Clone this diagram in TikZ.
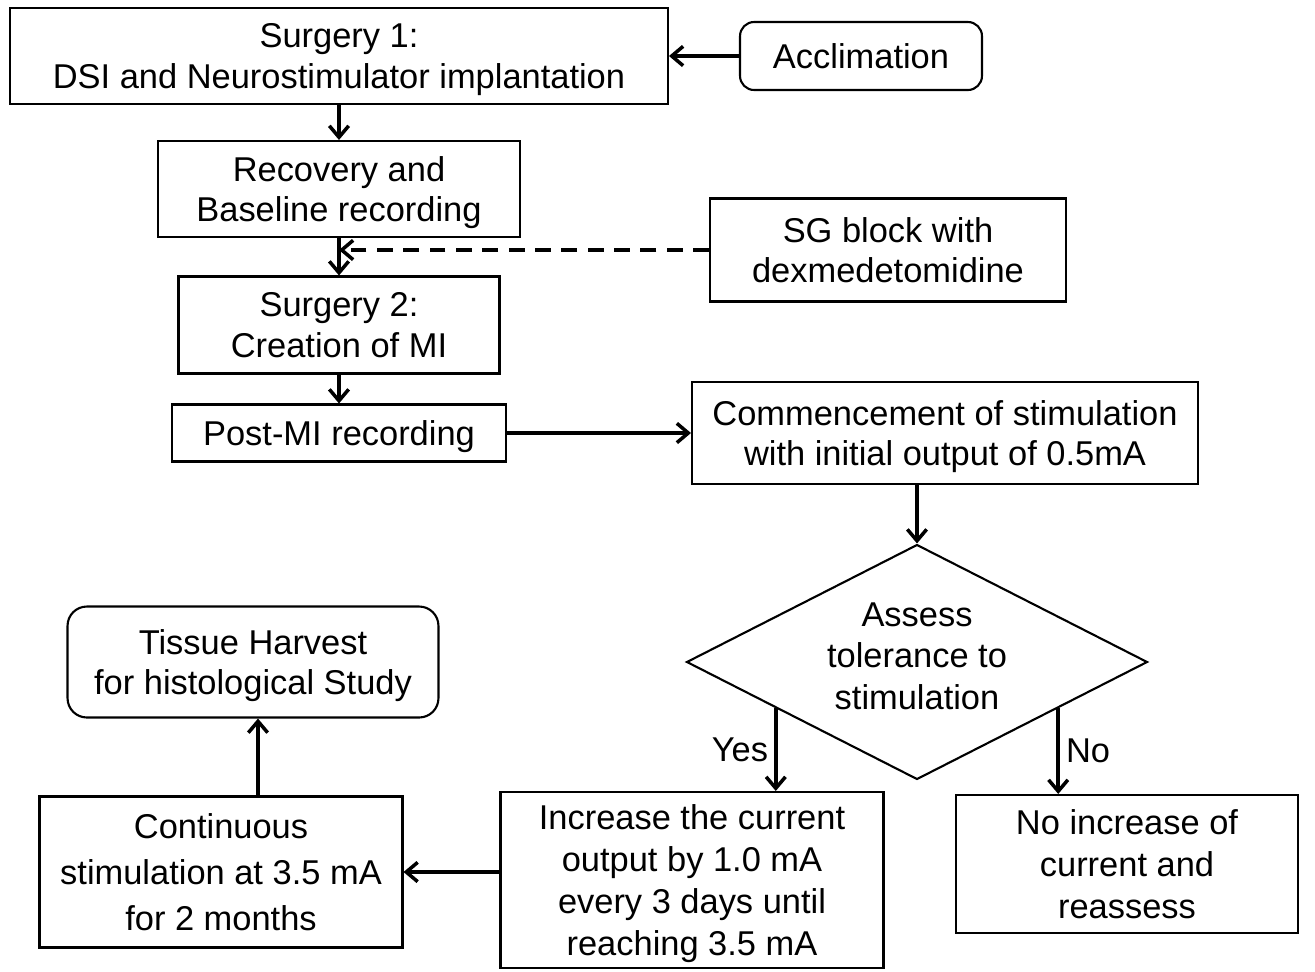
\documentclass[tikz,border=0pt]{standalone}
\usepackage{fontspec}
\setmainfont{Liberation Sans}
\usepackage{tikz}
\usetikzlibrary{calc,positioning}
\usetikzlibrary{shapes.geometric}
\usetikzlibrary{arrows.meta}
\usepackage{xcolor}

\begin{document}
\begin{tikzpicture}[x=0.02cm,y=-0.02cm,
		main/.style = {draw, rectangle, line width=1.2pt, align=center, inner sep=0pt, text depth=-1.5pt, font=\fontsize{19.6}{23.3}\selectfont},
		round/.style = {main, rounded corners=8pt},
		dec/.style = {draw, diamond, aspect=2, line width=1.2pt, align=center, inner sep=0pt, text depth=6.8pt, font=\fontsize{19.6}{23.8}\selectfont},
		arr/.style = {line width=2.2pt, -{Straight Barb[length=6.5pt,width=11pt,line width=2pt]}}]
		\useasboundingbox (0,0) rectangle (1315,971);
		\node[main, minimum width=13.16cm, minimum height=1.92cm] (s1) at (339,56) {Surgery 1:\\DSI and Neurostimulator implantation};
		\node[round, minimum width=4.84cm, minimum height=1.36cm] (accl) at (861,56) {Acclimation};
		\node[main, minimum width=7.24cm, minimum height=1.92cm] (rec) at (339,189) {Recovery and\\Baseline recording};
		\node[main, minimum width=7.12cm, minimum height=2.06cm] (sg) at (888,250) {SG block with\\dexmedetomidine};
		\node[main, minimum width=6.42cm, minimum height=1.94cm] (s2) at (339,325) {Surgery 2:\\Creation of MI};
		\node[main, minimum width=6.68cm, minimum height=1.14cm] (pmi) at (339,433) {Post-MI recording};
		\node[main, minimum width=10.12cm, minimum height=2.04cm] (comm) at (945,433) {Commencement of stimulation\\with initial output of 0.5mA};
		\node[dec, minimum width=9.22cm, minimum height=4.7cm] (dia) at (917,662) {Assess\\tolerance to\\stimulation};
		\node[round, rounded corners=11pt, minimum width=7.42cm, minimum height=2.22cm] (tis) at (253,662) {Tissue Harvest\\for histological Study};
		\node[main, font=\fontsize{19.6}{26}\selectfont, minimum width=7.26cm, minimum height=3.02cm] (cont) at (221,872) {Continuous\\stimulation at 3.5 mA\\for 2 months};
		\node[main, font=\fontsize{19.6}{23.8}\selectfont, minimum width=7.66cm, minimum height=3.52cm] (inc) at (692,880) {Increase the current\\output by 1.0 mA\\every 3 days until\\reaching 3.5 mA};
		\node[main, font=\fontsize{19.6}{23.8}\selectfont, minimum width=6.84cm, minimum height=2.76cm] (noinc) at (1127,864) {No increase of\\current and\\reassess};
		\coordinate (yes) at ($(dia.west)!0.39!(dia.south)$);
		\coordinate (no) at ($(dia.east)!0.39!(dia.south)$);
		\draw[arr] (accl) -- (s1);
		\draw[arr] (s1.south) -- (rec.north);
		\draw[arr] (rec.south) -- (s2.north);
		\draw[arr, dashed, dash pattern=on 9pt off 6pt] (sg.west) -- (rec.south |- sg.west);
		\draw[arr] (s2.south) -- (pmi.north);
		\draw[arr] (pmi) -- (comm);
		\draw[arr] (comm.south -| dia.north) -- (dia.north);
		\draw[arr] (yes) -- node[left, font=\fontsize{19.6}{20}\selectfont] {Yes} (yes |- inc.north);
		\draw[arr] (no) -- node[right, font=\fontsize{19.6}{20}\selectfont] {No} (no |- noinc.north);
		\draw[arr] (inc.west |- cont.east) -- (cont.east);
		\draw[arr] (cont.north -| 258,0) -- (tis.south -| 258,0);
	\end{tikzpicture}
\end{document}
